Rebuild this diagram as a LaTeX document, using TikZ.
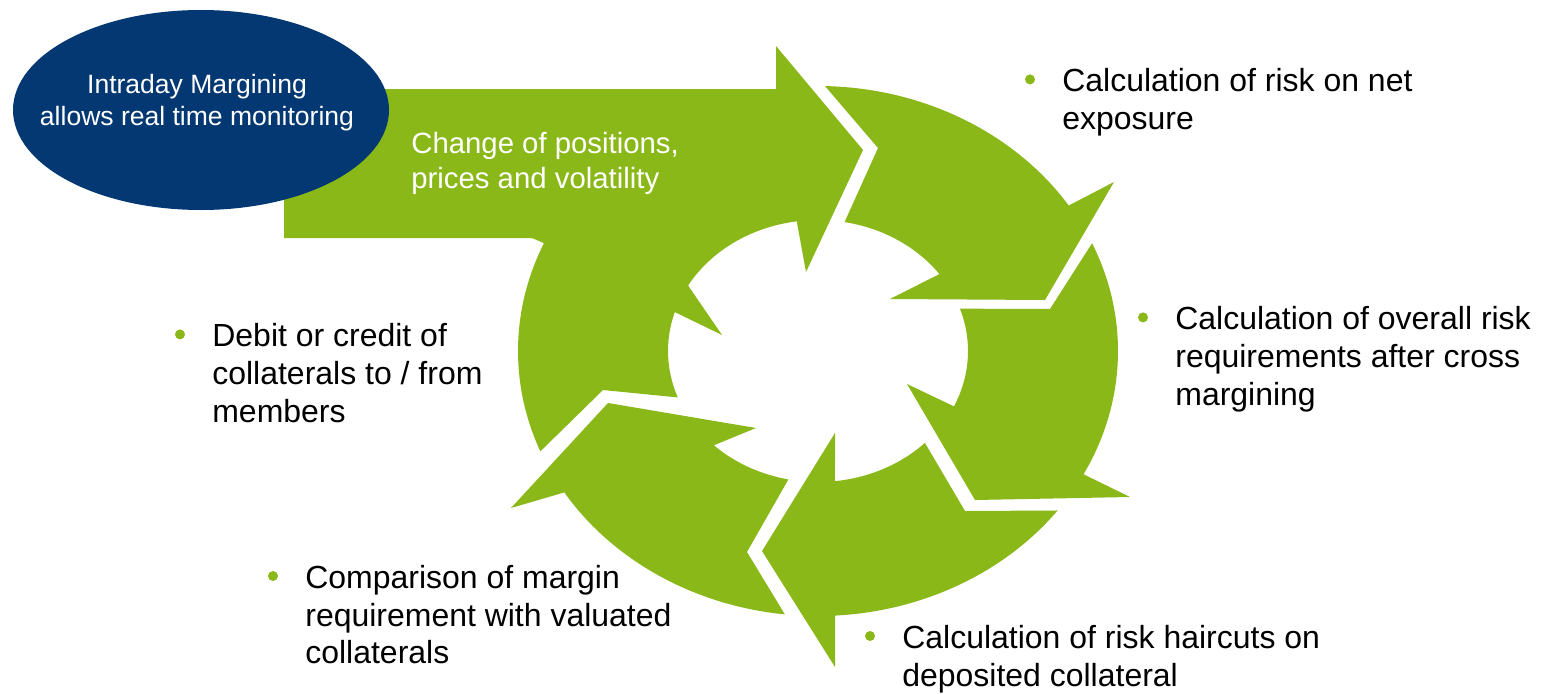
\documentclass[tikz,border=0pt]{standalone}
\usepackage{fontspec}
\setmainfont{Liberation Sans}
\usetikzlibrary{calc}

\definecolor{leafgreen}{RGB}{137,184,24}
\definecolor{deepblue}{RGB}{3,56,115}

\tikzset{
    item/.style={anchor=north west, inner sep=0pt, align=left, text=black,
        font=\fontsize{18.2}{21.4}\selectfont},
    flowtext/.style={anchor=north west, inner sep=0pt, align=left, text=white,
        font=\fontsize{16.7}{19.9}\selectfont},
    ovaltext/.style={inner sep=0pt, align=center, text=white,
        font=\fontsize{15.1}{18}\selectfont}
}

\begin{document}
\begin{tikzpicture}[x=0.02cm, y=-0.02cm]
        \useasboundingbox (0,0) rectangle (1544,693);
        \coordinate (O) at (818,351);
        % Draw the block arrow with the left part of the ring
        \fill[leafgreen] (284,89) -- (776,89) -- (776,46) -- (863,150) -- (806,272)
            -- ($(O)+(261.85:150 and 131)$) arc[start angle=261.85, end angle=210, x radius=150, y radius=131]
            -- (722,335) -- ($(O)+(197.3:150 and 131)$) arc[start angle=197.3, end angle=159.24, x radius=150, y radius=131]
            -- (603,390) -- ($(O)+(157.75:300 and 265)$) arc[start angle=157.75, end angle=204, x radius=300, y radius=265]
            -- (532,238) -- (284,238) -- cycle;
        % Draw the top right arrow
        \fill[leafgreen] ($(O)+(-88.66:300 and 265)$) arc[start angle=-88.66, end angle=-33.3, x radius=300, y radius=265]
            -- (1114,182) -- (1045,300) -- (890,299)
            -- ($(O)+(-35.97:150 and 131)$) arc[start angle=-35.97, end angle=-79.8, x radius=150, y radius=131]
            -- (878,148) -- cycle;
        % Draw the right arrow
        \fill[leafgreen] ($(O)+(-24:300 and 265)$) arc[start angle=-24, end angle=27.72, x radius=300, y radius=265]
            -- (1130,497) -- (975,500) -- (907,384)
            -- ($(O)+(25:150 and 131)$) arc[start angle=25, end angle=-18.86, x radius=150, y radius=131]
            -- (1050,309) -- cycle;
        % Draw the bottom arrow
        \fill[leafgreen] ($(O)+(37:300 and 265)$) arc[start angle=37, end angle=86.75, x radius=300, y radius=265]
            -- (835,667) -- (762,551) -- (835,433)
            -- ($(O)+(83.5:150 and 131)$) arc[start angle=83.5, end angle=44.55, x radius=150, y radius=131]
            -- (965,511) -- cycle;
        % Draw the bottom left arrow
        \fill[leafgreen] ($(O)+(96.35:300 and 265)$) arc[start angle=96.35, end angle=147.75, x radius=300, y radius=265]
            -- (511,508) -- (608,403) -- (756,428)
            -- ($(O)+(133.96:150 and 131)$) arc[start angle=133.96, end angle=101.4, x radius=150, y radius=131]
            -- (747,552) -- cycle;
        % Draw the oval
        \fill[deepblue] (201,110) ellipse [x radius=188, y radius=100];
        \node[ovaltext] (intraday) at (197,102.5) {Intraday Margining\\allows real time monitoring};
        \node[flowtext] (change) at (411,132) {Change of positions,\\prices and volatility};
        % Draw the steps
        \node[item] (exposure) at (1062,68.4) {Calculation of risk on net\\exposure};
        \node[item] (overall) at (1175,306.4) {Calculation of overall risk\\requirements after cross\\margining};
        \node[item] (haircut) at (902,625) {Calculation of risk haircuts on\\deposited collateral};
        \node[item] (comparison) at (305,565) {Comparison of margin\\requirement with valuated\\collaterals};
        \node[item] (debit) at (212,323.4) {Debit or credit of\\collaterals to / from\\members};
        \foreach \n in {exposure,overall,haircut,comparison,debit}{
            \fill[leafgreen] ($(\n.north west)+(-32,11)$) circle (5);
        }
    \end{tikzpicture}
\end{document}
